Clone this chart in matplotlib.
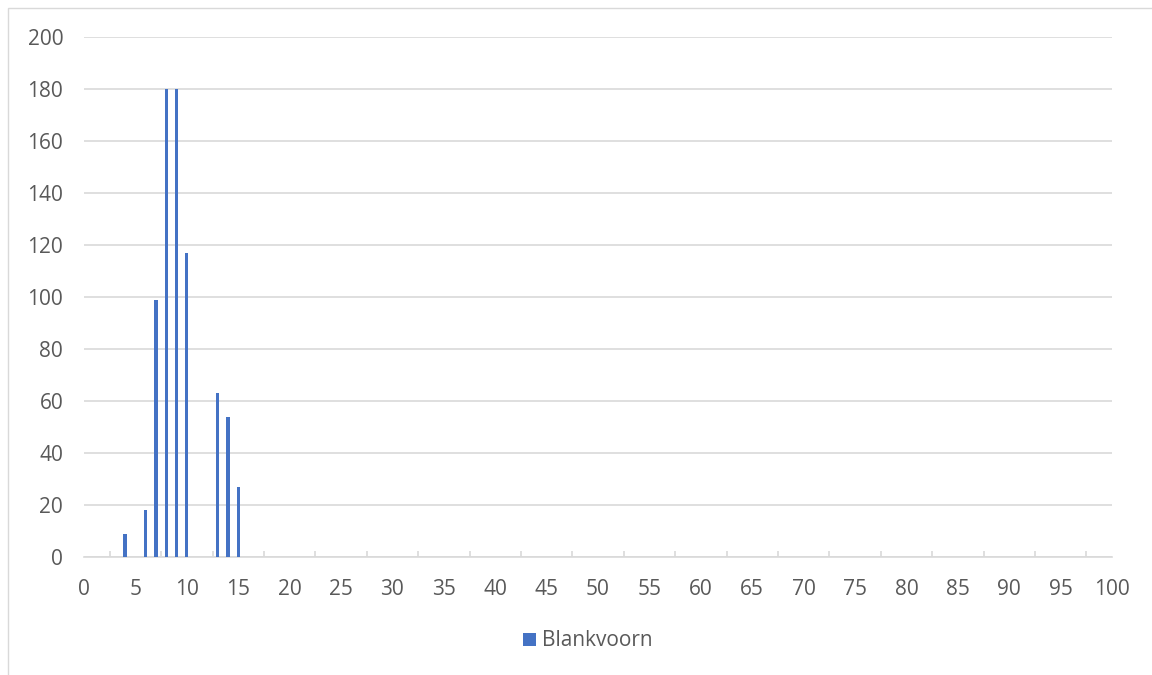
import matplotlib
matplotlib.use("Agg")
import matplotlib.pyplot as plt
from matplotlib.patches import Rectangle
import numpy as np

lengths = [4, 6, 7, 8, 9, 10, 13, 14, 15]
counts = [9, 18, 99, 180, 180, 117, 63, 54, 27]
series_name = "Blankvoorn"
y_ticks = [0, 20, 40, 60, 80, 100, 120, 140, 160, 180, 200]
x_labels = list(range(0, 101, 5))

plt.rcParams['font.family'] = ['Open Sans', 'DejaVu Sans']
text_color = '#595959'
grid_color = '#d9d9d9'
fs = 15

fig = plt.figure(figsize=(11.52, 6.75), dpi=100)
ax = fig.add_axes([84/1152, 1-557/675, (1112-84)/1152, (557-37)/675])

ax.bar(lengths, counts, width=0.32, color='#4472C4', zorder=3, label=series_name)

ax.set_xlim(0, 100)
ax.set_ylim(0, 200)
ax.set_yticks(y_ticks)
ax.set_xticks(x_labels)
ax.set_xticks(np.arange(0, 100.01, 2.5), minor=True)
ax.grid(axis='y', color=grid_color, linewidth=1.2, zorder=0)
ax.set_axisbelow(True)
for s in ['top', 'right', 'left']:
    ax.spines[s].set_visible(False)
ax.spines['bottom'].set_color(grid_color)
ax.spines['bottom'].set_linewidth(1.2)
ax.tick_params(axis='y', length=0, labelsize=fs, labelcolor=text_color, pad=15)
ax.tick_params(axis='x', which='major', length=0, labelsize=fs, labelcolor=text_color, pad=16)
ax.tick_params(axis='x', which='minor', direction='in', length=4, width=1.2, color=grid_color)

leg = fig.legend(loc='center', bbox_to_anchor=(588/1152, 1-641/675), frameon=False,
                 fontsize=fs, handlelength=0.6, handleheight=0.6, handletextpad=0.3)
for t in leg.get_texts():
    t.set_color(text_color)

fig.patches.append(Rectangle((8/1152, -0.01), 1.0, 1-8/675+0.01, transform=fig.transFigure,
                             fill=False, edgecolor=grid_color, linewidth=1.0))

fig.savefig('out.png', dpi=100)
